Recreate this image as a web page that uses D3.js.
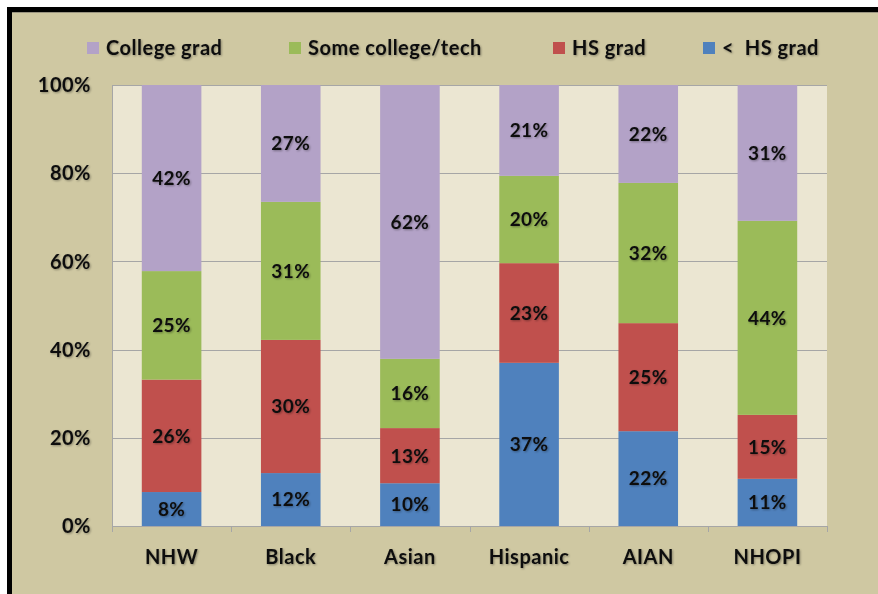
<!DOCTYPE html>
<html><head><meta charset="utf-8">
<script src="https://cdn.jsdelivr.net/npm/d3@7"></script>
<style>
html,body{margin:0;padding:0;background:#fff;}
svg text{font-family:Lato,"Open Sans",sans-serif;font-weight:bold;fill:#111;}
</style></head>
<body><svg id="c" width="878" height="594"></svg>
<script>
const categories = ["NHW","Black","Asian","Hispanic","AIAN","NHOPI"];
const seriesNames = ["< HS grad","HS grad","Some college/tech","College grad"];
const lessHS   = [7.7, 12.0, 9.7, 37.0, 21.5, 10.7];
const hsGrad   = [25.5, 30.2, 12.5, 22.6, 24.5, 14.5];
const someColl = [24.6, 31.3, 15.7, 19.8, 31.8, 44.0];
const collGrad = [42.2, 26.5, 62.1, 20.6, 22.2, 30.8];
const yTicks = [0, 20, 40, 60, 80, 100];
const legendItems = ["College grad","Some college/tech","HS grad","<  HS grad"];

const colors = {"< HS grad":"#4F81BD","HS grad":"#C0504D","Some college/tech":"#9BBB59","College grad":"#B3A2C7"};
const legendColors = ["#B3A2C7","#9BBB59","#C0504D","#4F81BD"];

const svg = d3.select("#c");
const shadow = svg.append("defs").append("filter").attr("id","sh").attr("x","-10%").attr("y","-10%").attr("width","130%").attr("height","140%");
shadow.append("feGaussianBlur").attr("in","SourceAlpha").attr("stdDeviation",0.9).attr("result","b");
shadow.append("feOffset").attr("in","b").attr("dx",1).attr("dy",1).attr("result","o");
shadow.append("feComponentTransfer").attr("in","o").attr("result","o2").append("feFuncA").attr("type","linear").attr("slope",0.35);
const mg = shadow.append("feMerge"); mg.append("feMergeNode").attr("in","o2"); mg.append("feMergeNode").attr("in","SourceGraphic");

// frame
svg.append("rect").attr("x",7).attr("y",7).attr("width",880).attr("height",600).attr("fill","#000");
svg.append("rect").attr("x",12).attr("y",12).attr("width",870).attr("height",590).attr("fill","#CFC8A2");
svg.append("line").attr("x1",12).attr("x2",878).attr("y1",12.5).attr("y2",12.5).attr("stroke","#9a9480").attr("stroke-width",1);

const L=112, R=827, T=85, B=526;
const x = d3.scaleBand().domain(categories).range([L,R]).paddingInner(0.5).paddingOuter(0.25);
const xb = d3.scaleBand().domain(categories).range([L,R]);
const y = d3.scaleLinear().domain([0,100]).range([B,T]);

svg.append("rect").attr("x",L).attr("y",T).attr("width",R-L).attr("height",B-T).attr("fill","#EBE6D2");

// gridlines
svg.append("g").selectAll("line").data(yTicks).join("line")
  .attr("x1",L).attr("x2",R).attr("y1",d=>Math.round(y(d))+0.5).attr("y2",d=>Math.round(y(d))+0.5)
  .attr("stroke","#A6A6A6").attr("stroke-width",1);

const data = categories.map((c,i)=>({cat:c,"< HS grad":lessHS[i],"HS grad":hsGrad[i],"Some college/tech":someColl[i],"College grad":collGrad[i]}));
const stack = d3.stack().keys(seriesNames)(data);

const gBars = svg.append("g");
stack.forEach(layer=>{
  gBars.selectAll(null).data(layer).join("rect")
    .attr("x",d=>x(d.data.cat)).attr("width",x.bandwidth())
    .attr("y",d=>y(d[1])).attr("height",d=>y(d[0])-y(d[1]))
    .attr("fill",colors[layer.key]);
});
const gLab = svg.append("g").attr("filter","url(#sh)");
stack.forEach(layer=>{
  gLab.selectAll(null).data(layer).join("text")
    .attr("x",d=>x(d.data.cat)+x.bandwidth()/2).attr("y",d=>(y(d[0])+y(d[1]))/2)
    .attr("dy","0.36em").attr("text-anchor","middle").attr("font-size",19).attr("letter-spacing",0.4)
    .text(d=>Math.round(d[1]-d[0])+"%");
});

// axes
svg.append("line").attr("x1",L+0.5).attr("x2",L+0.5).attr("y1",T).attr("y2",B).attr("stroke","#A6A6A6");
const ticksX = categories.map(c=>xb(c)).concat([R]);
svg.append("g").selectAll("line").data(ticksX).join("line")
  .attr("x1",d=>Math.round(d)+0.5).attr("x2",d=>Math.round(d)+0.5).attr("y1",B).attr("y2",B+6).attr("stroke","#A6A6A6");

const gAx = svg.append("g").attr("filter","url(#sh)");
gAx.selectAll(null).data(categories).join("text")
  .attr("x",d=>xb(d)+xb.bandwidth()/2).attr("y",557).attr("dy","0.36em")
  .attr("text-anchor","middle").attr("font-size",20).attr("letter-spacing",0.5).text(d=>d);
gAx.selectAll(null).data(yTicks).join("text")
  .attr("x",91).attr("y",d=>y(d)).attr("dy","0.36em")
  .attr("text-anchor","end").attr("font-size",20).attr("letter-spacing",0.5).text(d=>d+"%");

// legend
const legX = [87, 289, 553, 703];
const gLeg = svg.append("g");
legendItems.forEach((t,i)=>{
  gLeg.append("rect").attr("x",legX[i]).attr("y",42).attr("width",12).attr("height",12).attr("fill",legendColors[i]);
  gLeg.append("text").attr("x",legX[i]+19).attr("y",48).attr("dy","0.36em").attr("font-size",20).attr("letter-spacing",0.5)
    .attr("filter","url(#sh)").attr("xml:space","preserve").style("white-space","pre").text(t);
});
</script></body></html>
